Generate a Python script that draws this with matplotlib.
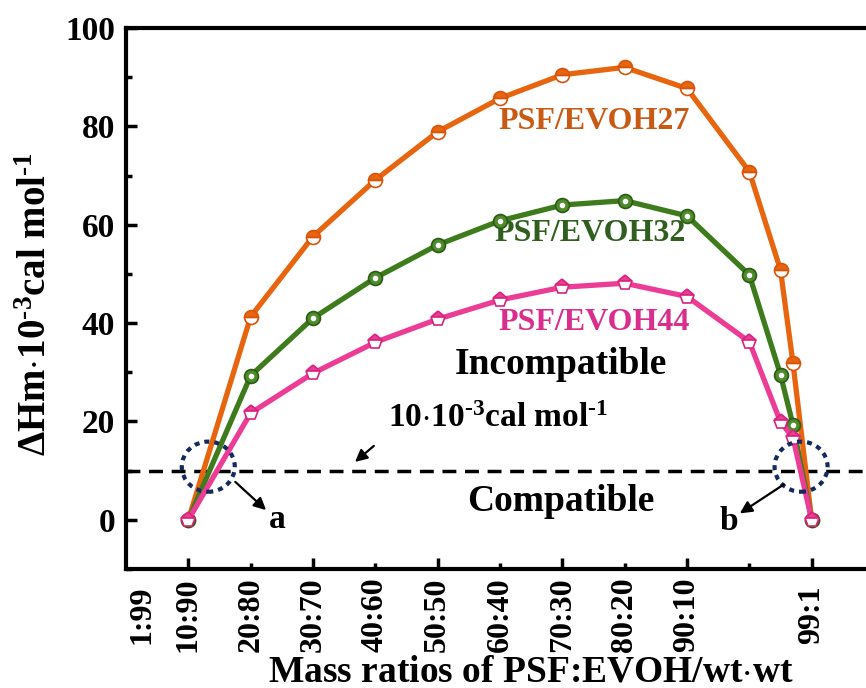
import matplotlib
matplotlib.use("Agg")
import matplotlib.pyplot as plt
from matplotlib.patches import Ellipse
from matplotlib.transforms import blended_transform_factory

plt.rcParams['font.family'] = ['Liberation Serif', 'DejaVu Serif']
plt.rcParams['font.weight'] = 'bold'
plt.rcParams['axes.labelweight'] = 'bold'
plt.rcParams['mathtext.fontset'] = 'custom'
plt.rcParams['mathtext.rm'] = 'Liberation Serif:bold'
plt.rcParams['mathtext.bf'] = 'Liberation Serif:bold'
plt.rcParams['mathtext.default'] = 'rm'

# x position of each mass ratio on the chart's own scale
ratio_x = [10, 20, 30, 40, 50, 60, 70, 80, 90, 100, 105, 107, 110]

evoh27 = [0, 41.3, 57.6, 69.1, 78.9, 85.7, 90.5, 92.0, 87.7, 70.8, 50.8, 31.9, 0]
evoh32 = [0, 29.3, 41.0, 49.2, 55.9, 60.8, 64.0, 64.9, 61.8, 49.8, 29.5, 19.3, 0]
evoh44 = [0, 21.7, 29.8, 36.1, 40.8, 44.7, 47.3, 48.1, 45.4, 36.2, 19.9, 16.7, 0]

tick_labels = ['1:99', '10:90', '20:80', '30:70', '40:60', '50:50',
               '60:40', '70:30', '80:20', '90:10', '99:1']
tick_label_x = [2.5, 10, 20, 30, 40, 50, 60, 70, 80, 90, 110]

threshold = 10

orange = '#E8650F'
green = '#3E7B1C'
pink = '#EC3C96'

fig = plt.figure(figsize=(8.66, 6.88), dpi=100)
ax = fig.add_axes([126 / 866, 1 - 569 / 688, 748 / 866, 541 / 688])

ax.axhline(threshold, color='black', lw=2.5, dashes=(4, 2.5), zorder=1)

ax.plot(ratio_x, evoh27, color=orange, lw=3.8, marker='o', ms=10,
        fillstyle='top', markerfacecoloralt='white', mec='#D9540A', mew=1.2, zorder=3)
ax.plot(ratio_x, evoh32, color=green, lw=3.8, marker='o', ms=10,
        mfc='#4C8C2A', mec='#2D5A14', mew=1.2, zorder=4)
ax.plot(ratio_x, evoh32, ls='none', marker='o', ms=3, mfc='white', mec='white', zorder=4)
ax.plot(ratio_x, evoh44, color=pink, lw=3.8, marker='p', ms=11,
        fillstyle='top', markerfacecoloralt='white', mec='#D9237F', mew=1.2, zorder=5)

# dotted circles at the crossings
for cx in [13.2, 108.3]:
    ax.add_patch(Ellipse((cx, 10.8), 8.5, 10.2, fill=False, ec='#152a5c', lw=3,
                         ls=(0, (1.2, 1.2)), zorder=6))

arrow = dict(arrowstyle='-|>', color='black', lw=1.6, mutation_scale=18)
ax.annotate('', xy=(22.8, 1.6), xytext=(17.2, 8.1), arrowprops=arrow, zorder=7)
ax.annotate('', xy=(98.1, 1.0), xytext=(105.9, 7.5), arrowprops=arrow, zorder=7)
ax.annotate('', xy=(36.4, 11.4), xytext=(40.1, 15.4), arrowprops=arrow, zorder=7)
ax.text(24.2, 0, 'a', fontsize=24, ha='center', va='center')
ax.text(96.7, -0.3, 'b', fontsize=24, ha='center', va='center')

ax.text(75.1, 80.9, 'PSF/EVOH27', color='#C85A14', fontsize=23, ha='center', va='center')
ax.text(74.5, 58.3, 'PSF/EVOH32', color='#2F5E1E', fontsize=23, ha='center', va='center')
ax.text(75.1, 40.2, 'PSF/EVOH44', color='#D92E8E', fontsize=23, ha='center', va='center')
ax.text(69.7, 31.5, 'Incompatible', fontsize=27, ha='center', va='center')
ax.text(59.6, 20.5, '10$\\cdot$10$^{\u2010 3}$cal mol$^{\u20101}$', fontsize=24,
        ha='center', va='center')
ax.text(69.7, 3.8, 'Compatible', fontsize=27, ha='center', va='center')

ax.set_xlim(0, 120)
ax.set_ylim(-10, 100)
ax.set_xticks([10, 30, 50, 70, 90, 110])
ax.set_xticks([20, 40, 60, 80, 100], minor=True)
ax.set_xticklabels([])
ax.set_yticks([0, 20, 40, 60, 80, 100])
ax.set_yticks([-10, 10, 30, 50, 70, 90], minor=True)
ax.tick_params(which='major', direction='in', length=8, width=2.5, labelsize=24, pad=8)
ax.tick_params(which='minor', direction='in', length=4, width=2.5)
ax.tick_params(axis='x', which='both', top=False)
ax.tick_params(axis='y', which='both', right=False)

trans = blended_transform_factory(ax.transData, ax.transAxes)
for lx, lab in zip(tick_label_x, tick_labels):
    ax.text(lx, -0.085, lab, transform=trans, rotation=90, fontsize=23,
            ha='center', va='center')

for side in ['left', 'bottom', 'top', 'right']:
    ax.spines[side].set_linewidth(3)

ax.set_ylabel('$\\Delta$Hm$\\cdot$10$^{\u2010 3}$cal mol$^{\u20101}$', fontsize=28)
ax.yaxis.set_label_coords(-0.095, 0.49)
ax.set_xlabel('Mass ratios of PSF:EVOH/wt$\\cdot$wt', fontsize=27, va='center')
ax.xaxis.set_label_coords(0.5414, -0.19)

fig.savefig('out.png', dpi=100)
